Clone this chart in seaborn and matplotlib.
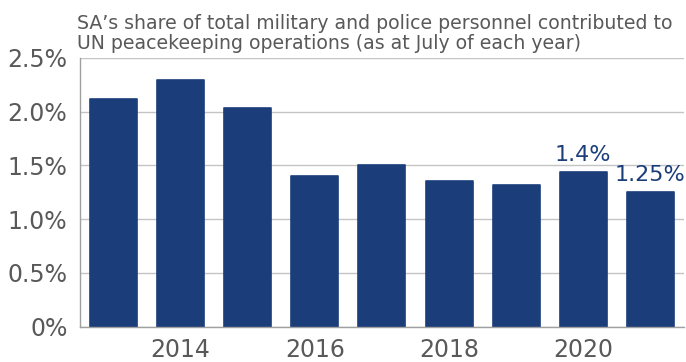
import pandas as pd
import matplotlib.pyplot as plt
import matplotlib.ticker as mticker
import seaborn as sns

# SA share of UN peacekeeping personnel (%), July of each year
years = [2013, 2014, 2015, 2016, 2017, 2018, 2019, 2020, 2021]
share = [2.12, 2.29, 2.03, 1.40, 1.50, 1.35, 1.32, 1.44, 1.25]
labelled = {2020: '1.4%', 2021: '1.25%'}
y_ticks = [0, 0.5, 1.0, 1.5, 2.0, 2.5]
x_labels = [2014, 2016, 2018, 2020]

navy = '#1b3e7a'
grey_text = '#595959'
grid_col = '#c4c4c4'

df = pd.DataFrame({'year': years, 'share': share})

sns.set_style('white')
plt.rcParams['font.family'] = ['DejaVu Sans']

fig = plt.figure(figsize=(6.86, 3.62), dpi=100)
ax = fig.add_axes([0.1166, 0.0975, 0.9804 - 0.1166 + 0.0166, 0.8406 - 0.0975])

sns.barplot(data=df, x='year', y='share', color=navy, width=0.70,
            saturation=1, ax=ax, order=years)
for p in ax.patches:
    p.set_edgecolor(navy)
    p.set_linewidth(1.2)
    p.set_joinstyle('round')

ax.set_xlim(-0.5, len(years) - 0.5)
ax.set_ylim(0, 2.5)

# grid lines
ax.set_yticks(y_ticks)
ax.yaxis.set_major_formatter(mticker.FuncFormatter(
    lambda v, _: '0%' if v == 0 else f'{v:.1f}%'))
ax.grid(axis='y', color=grid_col, linewidth=1)
ax.set_axisbelow(True)

# year labels under every second bar, small ticks between bars
ax.set_xticks([years.index(y) for y in x_labels])
ax.set_xticklabels([str(y) for y in x_labels])
ax.set_xticks([i - 0.5 for i in range(len(years) + 1)], minor=True)
ax.tick_params(axis='x', which='major', length=0, pad=8,
               labelsize=17, labelcolor=grey_text)
ax.tick_params(axis='x', which='minor', length=5, width=1, color='#a0a0a0')
ax.tick_params(axis='y', length=0, pad=9, labelsize=17, labelcolor=grey_text)

for s in ['top', 'right']:
    ax.spines[s].set_visible(False)
for s in ['left', 'bottom']:
    ax.spines[s].set_color('#a0a0a0')
    ax.spines[s].set_linewidth(1)

ax.set_xlabel('')
ax.set_ylabel('')

# value labels
for yr, txt in labelled.items():
    i = years.index(yr)
    ax.annotate(txt, (i, share[i]), xytext=(0, 5), textcoords='offset points',
                ha='center', va='bottom', fontsize=16, color=navy)

fig.text(0.112, 0.962, "SA’s share of total military and police personnel contributed to\n"
         "UN peacekeeping operations (as at July of each year)",
         ha='left', va='top', fontsize=13.6, color=grey_text, linespacing=1.1)

fig.savefig('out.png', dpi=100)
